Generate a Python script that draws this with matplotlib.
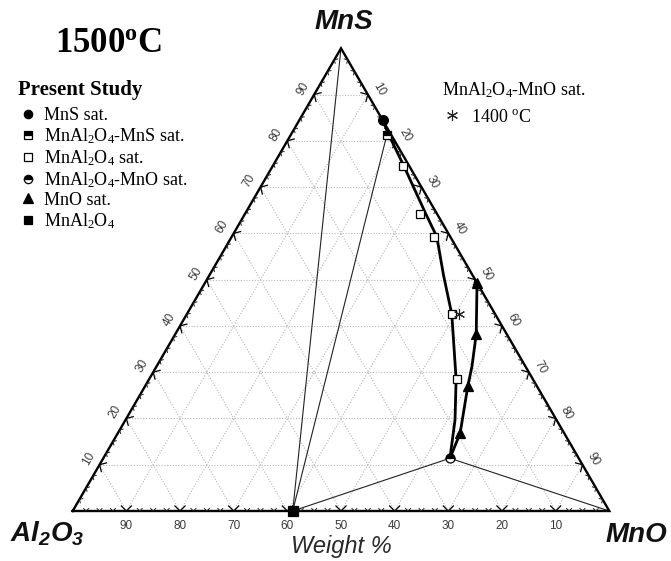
import numpy as np
import matplotlib
matplotlib.use("Agg")
import matplotlib.pyplot as plt
from matplotlib.lines import Line2D
from matplotlib.collections import LineCollection

plt.rcParams['mathtext.default'] = 'regular'
plt.rcParams['font.family'] = ['Liberation Serif', 'DejaVu Serif']

# ---------------- data (wt%) ----------------
# MnS-saturated liquid
mns_sat_MnS = [84.4]; mns_sat_MnO = [15.6]; mns_sat_Al2O3 = [0.0]
# MnAl2O4 + MnS double saturation
sp_mns_MnS = [81.3]; sp_mns_MnO = [17.9]; sp_mns_Al2O3 = [0.8]
# MnAl2O4 saturated
sp_MnS = [74.6, 64.1, 59.3, 42.5, 28.5]
sp_MnO = [24.2, 32.7, 37.6, 49.4, 57.4]
sp_Al2O3 = [1.2, 3.2, 3.1, 8.1, 14.1]
# MnAl2O4 + MnO double saturation
sp_mno_MnS = [11.4]; sp_mno_MnO = [64.6]; sp_mno_Al2O3 = [24.0]
# MnO saturated
mno_MnS = [49.3, 38.2, 27.1, 16.8]
mno_MnO = [50.7, 56.1, 60.1, 63.8]
mno_Al2O3 = [0.0, 5.7, 12.8, 19.4]
# MnAl2O4 compound
mnal2o4_MnS = [0.0]; mnal2o4_MnO = [41.0]; mnal2o4_Al2O3 = [59.0]
# MnAl2O4-MnO saturation at 1400 C
star_MnS = [42.5]; star_MnO = [50.8]; star_Al2O3 = [6.7]

# liquidus curves
sp_curve_MnS = [84.4, 81.7, 74.6, 64.1, 59.3, 51.0, 42.5, 28.5, 19.7, 11.4]
sp_curve_MnO = [15.6, 17.9, 24.4, 33.8, 38.2, 43.6, 49.4, 57.2, 61.4, 64.6]
sp_curve_Al2O3 = [0.0, 0.4, 1.0, 2.1, 2.5, 5.4, 8.1, 14.3, 18.9, 24.0]
mno_curve_MnS = [49.3, 38.2, 31.2, 27.1, 16.8, 11.4]
mno_curve_MnO = [50.7, 56.1, 58.8, 60.1, 63.8, 64.6]
mno_curve_Al2O3 = [0.0, 5.7, 10.0, 12.8, 19.4, 24.0]

# vertices (MnS, MnO, Al2O3)
v_MnS = (100, 0, 0)
v_MnO = (0, 100, 0)

grid_vals = [10, 20, 30, 40, 50, 60, 70, 80, 90]
tick_step = 2.5
bottom_labels = [90, 80, 70, 60, 50, 40, 30, 20, 10]   # Al2O3
left_labels = [10, 20, 30, 40, 50, 60, 70, 80, 90]     # MnS
right_labels = [10, 20, 30, 40, 50, 60, 70, 80, 90]    # MnO

# ---------------- helpers ----------------
H3 = np.sqrt(3) / 2


def tern(mns, mno, al):
    mns = np.asarray(mns, float); mno = np.asarray(mno, float); al = np.asarray(al, float)
    tot = mns + mno + al
    return (mno + mns / 2) / tot, (mns / tot) * H3


W, H = 671, 561
fig = plt.figure(figsize=(W / 100, H / 100), dpi=100)
fig.patch.set_facecolor('white')


def fx(px):
    return px / W


def fy(py):
    return 1 - py / H


ax = fig.add_axes([fx(72.7), fy(511), 536.6 / W, 462.7 / H])
ax.set_xlim(0, 1)
ax.set_ylim(0, H3)
ax.axis('off')

# grid
for v in grid_vals:
    segs = [
        tern([v, v], [0, 100 - v], [100 - v, 0]),      # const MnS
        tern([0, 100 - v], [v, v], [100 - v, 0]),      # const MnO
        tern([0, 100 - v], [100 - v, 0], [v, v]),      # const Al2O3
    ]
    for x, y in segs:
        ax.plot(x, y, color='#b8b8b8', lw=0.8, ls=(0, (1, 1.5)), zorder=1, clip_on=False)

# triangle border
bx, by = tern([0, 0, 100, 0], [0, 100, 0, 0], [100, 0, 0, 100])
ax.plot(bx, by, color='black', lw=1.7, zorder=3, clip_on=False, solid_joinstyle='miter')

# ticks (V-shaped, pointing inward)
edges = [
    ((0.0, 0.0), (1.0, 0.0), (0.0, 1.0)),                 # bottom
    ((1.0, 0.0), (0.5, H3), (-H3, -0.5)),                 # right
    ((0.5, H3), (0.0, 0.0), (H3, -0.5)),                  # left
]
tick_segs_major = []
tick_segs_minor = []
for p0, p1, n in edges:
    p0 = np.array(p0); p1 = np.array(p1); n = np.array(n)
    for t in np.arange(tick_step, 100, tick_step):
        p = p0 + (p1 - p0) * t / 100
        major = abs(t % 10) < 1e-6
        L = 0.0145 if major else 0.0075
        for ang in (np.deg2rad(45), np.deg2rad(-45)):
            c, s = np.cos(ang), np.sin(ang)
            d = np.array([c * n[0] - s * n[1], s * n[0] + c * n[1]])
            seg = [tuple(p), tuple(p + d * L)]
            (tick_segs_major if major else tick_segs_minor).append(seg)
ax.add_collection(LineCollection(tick_segs_major, colors='black', linewidths=0.9, zorder=3, clip_on=False))
ax.add_collection(LineCollection(tick_segs_minor, colors='#222222', linewidths=0.7, zorder=3, clip_on=False))

# tick labels
lab_kw = dict(fontsize=8.5, color='#3a3a3a', family='Liberation Sans', ha='center', va='center',
              textcoords='offset points', annotation_clip=False)
for v in bottom_labels:
    x, y = tern(0, 100 - v, v)
    ax.annotate(str(v), (x, y), xytext=(0, -11), **lab_kw)
for v in left_labels:
    x, y = tern(v, 0, 100 - v)
    ax.annotate(str(v), (x, y), xytext=(-8, 4.5), rotation=60, **lab_kw)
for v in right_labels:
    x, y = tern(100 - v, v, 0)
    ax.annotate(str(v), (x, y), xytext=(8, 3.8), rotation=-60, **lab_kw)

# tie lines
for a, b in [(v_MnS, (mnal2o4_MnS[0], mnal2o4_MnO[0], mnal2o4_Al2O3[0])),
             ((sp_mns_MnS[0], sp_mns_MnO[0], sp_mns_Al2O3[0]), (mnal2o4_MnS[0], mnal2o4_MnO[0], mnal2o4_Al2O3[0])),
             ((sp_mno_MnS[0], sp_mno_MnO[0], sp_mno_Al2O3[0]), (mnal2o4_MnS[0], mnal2o4_MnO[0], mnal2o4_Al2O3[0])),
             ((sp_mno_MnS[0], sp_mno_MnO[0], sp_mno_Al2O3[0]), v_MnO)]:
    x, y = tern([a[0], b[0]], [a[1], b[1]], [a[2], b[2]])
    ax.plot(x, y, color='#222222', lw=0.8, zorder=2, clip_on=False)

# liquidus curves
x, y = tern(sp_curve_MnS, sp_curve_MnO, sp_curve_Al2O3)
ax.plot(x, y, color='black', lw=2.0, zorder=4, clip_on=False, solid_joinstyle='round')
x, y = tern(mno_curve_MnS, mno_curve_MnO, mno_curve_Al2O3)
ax.plot(x, y, color='black', lw=2.0, zorder=4, clip_on=False, solid_joinstyle='round')

# markers
mk = dict(ls='none', clip_on=False, zorder=5, mec='black', mew=0.9)
x, y = tern(mns_sat_MnS, mns_sat_MnO, mns_sat_Al2O3)
ax.plot(x, y, marker='o', ms=7.0, mfc='black', **mk)
x, y = tern(sp_mns_MnS, sp_mns_MnO, sp_mns_Al2O3)
ax.plot(x, y, marker='s', ms=6.3, mfc='black', fillstyle='top', markerfacecoloralt='white', **mk)
x, y = tern(sp_MnS, sp_MnO, sp_Al2O3)
ax.plot(x, y, marker='s', ms=6.3, mfc='white', **mk)
x, y = tern(sp_mno_MnS, sp_mno_MnO, sp_mno_Al2O3)
ax.plot(x, y, marker='o', ms=6.5, mfc='black', fillstyle='top', markerfacecoloralt='white', **mk)
x, y = tern(mno_MnS, mno_MnO, mno_Al2O3)
ax.plot(x, y, marker='^', ms=7.0, mfc='black', **mk)
x, y = tern(mnal2o4_MnS, mnal2o4_MnO, mnal2o4_Al2O3)
ax.plot(x, y, marker='s', ms=6.5, mfc='black', **mk)
x, y = tern(star_MnS, star_MnO, star_Al2O3)
ax.plot(x, y, marker=(6, 2, 0), ms=8, mfc='none', mec='#222222', mew=0.8, ls='none', clip_on=False, zorder=5)

# vertex labels and axis title
vk = dict(family='Liberation Sans', weight='bold', style='italic', fontsize=20, color='#111111')
fig.text(fx(344), fy(29), 'MnS', ha='center', va='baseline', **vk)
fig.text(fx(10), fy(542), 'Al$_2$O$_3$', ha='left', va='baseline', **vk)
fig.text(fx(606), fy(542), 'MnO', ha='left', va='baseline', **vk)
fig.text(fx(341), fy(553), 'Weight %', ha='center', va='baseline', family='Liberation Sans',
         style='italic', fontsize=17, color='#2a2a2a')

# title and legend header
fig.text(fx(55), fy(51.7), '1500$^{o}$C', ha='left', va='baseline', fontsize=25, weight='bold',
         family='Liberation Serif')
fig.text(fx(18), fy(95), 'Present Study', ha='left', va='baseline', fontsize=15, weight='bold',
         family='Liberation Serif')

# legend
lh = dict(ls='none', mec='black', mew=0.9, ms=6.0)
handles = [
    Line2D([], [], marker='o', mfc='black', **lh),
    Line2D([], [], marker='s', mfc='black', fillstyle='top', markerfacecoloralt='white', **lh),
    Line2D([], [], marker='s', mfc='white', **lh),
    Line2D([], [], marker='o', mfc='black', fillstyle='top', markerfacecoloralt='white', **lh),
    Line2D([], [], marker='^', ls='none', mec='black', mew=0.9, ms=7.0, mfc='black'),
    Line2D([], [], marker='s', mfc='black', **lh),
]
labels = ['MnS sat.', 'MnAl$_2$O$_4$-MnS sat.', 'MnAl$_2$O$_4$ sat.',
          'MnAl$_2$O$_4$-MnO sat.', 'MnO sat.', 'MnAl$_2$O$_4$']
leg = fig.legend(handles, labels, loc='upper left', bbox_to_anchor=(fx(19), fy(107)),
                 frameon=False, prop={'family': 'Liberation Serif', 'size': 13},
                 handlelength=1.0, handletextpad=0.4, labelspacing=0.12, borderpad=0,
                 borderaxespad=0)

leg2 = fig.legend([Line2D([], [], marker=(6, 2, 0), ls='none', ms=8, mec='#222222', mew=0.8)],
                  ['1400 $^{o}$C'], loc='upper left', bbox_to_anchor=(fx(441.7), fy(80)),
                  title='MnAl$_2$O$_4$-MnO sat.', frameon=False,
                  prop={'family': 'Liberation Serif', 'size': 13},
                  title_fontproperties={'family': 'Liberation Serif', 'size': 13},
                  handlelength=1.1, handletextpad=0.55, borderpad=0, borderaxespad=0,
                  alignment='left')

fig.savefig('out.png', dpi=100, facecolor='white')
